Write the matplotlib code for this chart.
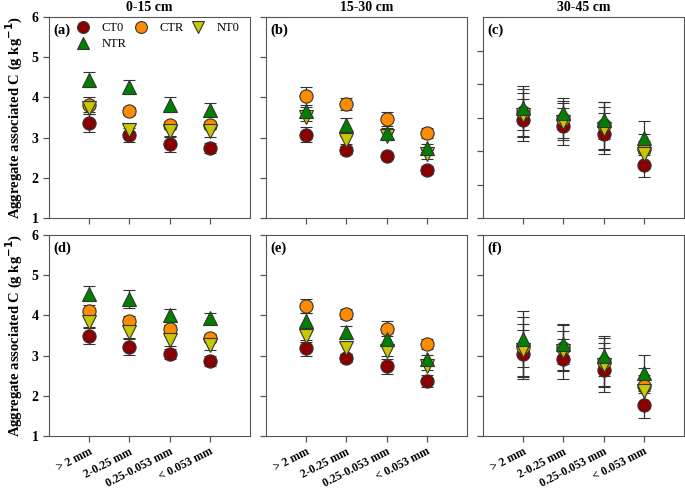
import numpy as np
import matplotlib
matplotlib.use("Agg")
import matplotlib.pyplot as plt
from matplotlib.lines import Line2D

plt.rcParams["font.family"] = ["Liberation Serif", "DejaVu Serif"]

# Datos: paneles a-f, cada fila = tamaños de agregado
sizes = ["> 2 mm", "2-0.25 mm", "0.25-0.053 mm", "< 0.053 mm"]
depths = ["0-15 cm", "15-30 cm", "30-45 cm"]
panel_tags = ["(a)", "(b)", "(c)", "(d)", "(e)", "(f)"]

ct0 = [[3.36, 3.06, 2.84, 2.74],
       [3.07, 2.70, 2.53, 2.19],
       [3.92, 3.74, 3.52, 2.58],
       [3.50, 3.22, 3.04, 2.86],
       [3.18, 2.93, 2.73, 2.36],
       [3.03, 2.92, 2.65, 1.76]]
ct0_err = [[0.22, 0.18, 0.19, 0.12],
           [0.19, 0.10, 0.07, 0.10],
           [0.63, 0.55, 0.62, 0.35],
           [0.20, 0.20, 0.13, 0.12],
           [0.20, 0.10, 0.18, 0.15],
           [0.60, 0.50, 0.55, 0.30]]

ctr = [[3.82, 3.65, 3.32, 3.32],
       [4.03, 3.84, 3.47, 3.11],
       [4.15, 3.95, 3.77, 3.05],
       [4.12, 3.86, 3.67, 3.44],
       [4.23, 4.03, 3.67, 3.29],
       [3.22, 3.20, 2.84, 2.24]]
ctr_err = [[0.18, 0.10, 0.10, 0.10],
           [0.23, 0.15, 0.17, 0.12],
           [0.70, 0.55, 0.70, 0.45],
           [0.15, 0.12, 0.10, 0.10],
           [0.18, 0.12, 0.18, 0.13],
           [0.75, 0.55, 0.60, 0.45]]

nt0 = [[3.74, 3.20, 3.16, 3.16],
       [3.51, 2.93, 3.03, 2.58],
       [4.07, 3.87, 3.67, 2.90],
       [3.83, 3.58, 3.40, 3.27],
       [3.50, 3.18, 3.12, 2.75],
       [3.14, 3.11, 2.76, 2.11]]
nt0_err = [[0.15, 0.15, 0.15, 0.15],
           [0.10, 0.10, 0.10, 0.10],
           [0.65, 0.55, 0.65, 0.40],
           [0.15, 0.15, 0.15, 0.12],
           [0.15, 0.15, 0.12, 0.12],
           [0.65, 0.50, 0.55, 0.40]]

ntr = [[4.44, 4.26, 3.82, 3.69],
       [3.65, 3.32, 3.11, 2.74],
       [4.29, 4.12, 3.92, 3.39],
       [4.54, 4.40, 4.00, 3.93],
       [3.86, 3.58, 3.42, 2.92],
       [3.42, 3.28, 3.00, 2.57]]
ntr_err = [[0.18, 0.17, 0.19, 0.16],
           [0.12, 0.17, 0.12, 0.10],
           [0.65, 0.45, 0.55, 0.50],
           [0.18, 0.22, 0.17, 0.12],
           [0.20, 0.15, 0.15, 0.10],
           [0.70, 0.50, 0.50, 0.45]]

series = [("CT0", ct0, ct0_err, "o", "#8b0000"),
          ("CTR", ctr, ctr_err, "o", "#ff8c00"),
          ("NT0", nt0, nt0_err, "v", "#c8c800"),
          ("NTR", ntr, ntr_err, "^", "#008000")]

fig = plt.figure(figsize=(6.85, 4.91), dpi=100)
W, H = 685, 491
lefts = [49, 266, 483]
tops = [17, 235]
axw, axh = 201, 201

x = np.arange(1, 5)
for i in range(6):
    row, col = divmod(i, 3)
    ax = fig.add_axes([lefts[col] / W, 1 - (tops[row] + axh) / H, axw / W, axh / H])
    handles = {}
    for name, vals, errs, mk, c in series:
        ax.errorbar(x, vals[i], yerr=errs[i], fmt=mk, color=c, mec="#333333",
                    mew=0.8, ms=9.5, ecolor="#333333", elinewidth=0.9,
                    capsize=4, capthick=0.9)
        handles[name] = Line2D([], [], ls="none", marker=mk, color=c, mec="#333333",
                               mew=0.8, ms=8.5)
    ax.set_xlim(0, 5)
    if i == 2:
        ax.set_ylim(1, 7)
    else:
        ax.set_ylim(1, 6)
    ax.set_yticks(range(1, 7))
    ax.set_xticks(x)
    for s in ax.spines.values():
        s.set_color("#555555")
    ax.tick_params(colors="#555555", length=4, width=0.9, labelcolor="black")
    if col == 0:
        ax.set_yticklabels([str(v) for v in range(1, 7)], fontweight="bold", fontsize=10)
        ax.set_ylabel("Aggregate associated C (g kg$^{\\mathbf{-1}}$)",
                      fontweight="bold", fontsize=10.5, labelpad=5)
    else:
        ax.set_yticklabels([])
    if row == 1:
        ax.set_xticklabels(sizes, rotation=27, ha="right", rotation_mode="anchor",
                           fontweight="bold", fontsize=8.5)
        ax.tick_params(axis="x", pad=3)
    else:
        ax.set_xticklabels([])
        ax.set_title(depths[col], fontweight="bold", fontsize=10, pad=4)
    ax.text(0.02, 0.97, panel_tags[i], transform=ax.transAxes, va="top", ha="left",
            fontweight="bold", fontsize=10.5)
    if i == 0:
        order = ["CT0", "NTR", "CTR", "NT0"]
        ax.legend([handles[k] for k in order], order, loc="upper left",
                  bbox_to_anchor=(0.139, 0.975), ncol=3, frameon=False,
                  fontsize=9, handlelength=1.0, handletextpad=1.0,
                  columnspacing=0.6, borderaxespad=0, borderpad=0,
                  labelspacing=0.35)

fig.savefig("out.png", dpi=100)
